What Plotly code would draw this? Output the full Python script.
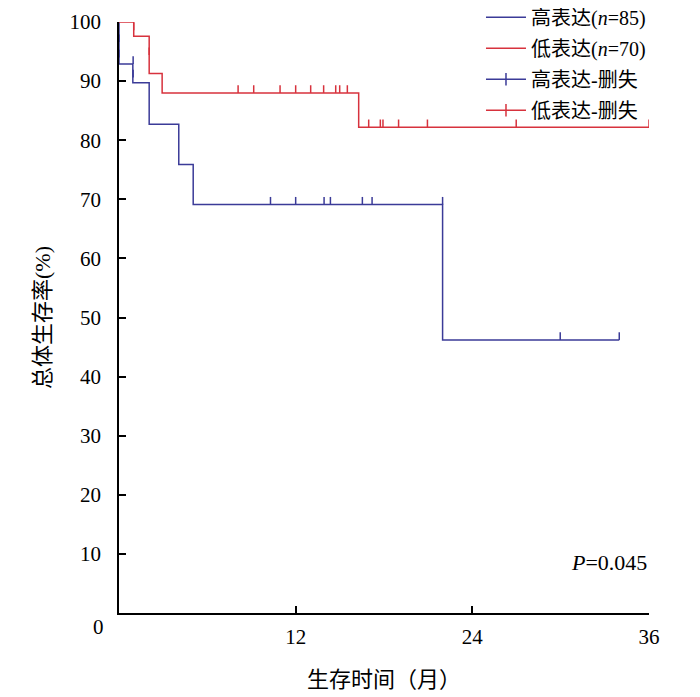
import plotly.graph_objects as go

# Kaplan-Meier steps (months, survival %)
high_times = [0, 0, 0.94, 2.05, 4.06, 5.04, 21.98, 33.98]
high_surv = [100, 92.9, 89.7, 82.7, 75.9, 69.1, 46.2, 46.2]
low_times = [0, 1.0, 2.05, 2.93, 16.28, 36]
low_surv = [100, 97.6, 91.3, 88.0, 82.2, 82.2]

# censored observations
high_cens_t = [0, 0, 0.96, 0.96, 10.29, 12.0, 13.93, 14.36, 16.53, 17.19, 21.98, 29.97, 33.98]
high_cens_s = [96.6, 94.0, 92.9, 90.6, 69.1, 69.1, 69.1, 69.1, 69.1, 69.1, 69.1, 46.2, 46.2]
low_cens_t = [0, 1.0, 1.0, 2.05, 8.09, 9.15, 10.94, 12.0, 13.02, 13.9, 14.72, 14.99, 15.51,
              16.96, 17.75, 17.93, 18.99, 20.95, 26.98, 36.0]
low_cens_s = [100, 100, 98.6, 94.4, 88.0, 88.0, 88.0, 88.0, 88.0, 88.0, 88.0, 88.0, 88.0,
              82.2, 82.2, 82.2, 82.2, 82.2, 82.2, 82.2]

x_ticks = [12, 24, 36]
y_ticks = [10, 20, 30, 40, 50, 60, 70, 80, 90, 100]
p_text = '<i>P</i>=0.045'

BLUE = '#3b3b98'
RED = '#d7323d'
FONT = 'Liberation Serif, Noto Sans CJK SC, serif'

fig = go.Figure()

fig.add_trace(go.Scatter(x=high_times, y=high_surv, mode='lines', line=dict(color=BLUE, width=1.5, shape='hv'),
                         name='高表达(<i>n</i>=85)', legendgroup='a', cliponaxis=False))
fig.add_trace(go.Scatter(x=low_times, y=low_surv, mode='lines', line=dict(color=RED, width=1.5, shape='hv'),
                         name='低表达(<i>n</i>=70)', legendgroup='b', cliponaxis=False))

# censor ticks drawn as one-sided error bars pointing up
for t, s, c in [(high_cens_t, high_cens_s, BLUE), (low_cens_t, low_cens_s, RED)]:
    fig.add_trace(go.Scatter(x=t, y=s, mode='markers', marker=dict(size=1, color=c, opacity=0),
                             error_y=dict(type='data', symmetric=False, array=[1.3] * len(t),
                                          arrayminus=[0] * len(t), width=0, thickness=1.5, color=c),
                             showlegend=False, hoverinfo='skip', cliponaxis=False))

# legend entries for censored
fig.add_trace(go.Scatter(x=[None], y=[None], mode='lines+markers', name='高表达-删失', legendgroup='c',
                         line=dict(color=BLUE, width=1.5),
                         marker=dict(symbol='line-ns-open', size=9, color=BLUE, line=dict(width=1.5, color=BLUE))))
fig.add_trace(go.Scatter(x=[None], y=[None], mode='lines+markers', name='低表达-删失', legendgroup='d',
                         line=dict(color=RED, width=1.5),
                         marker=dict(symbol='line-ns-open', size=9, color=RED, line=dict(width=1.5, color=RED))))

fig.add_annotation(x=36, y=8.5, xref='x', yref='y', text=p_text, showarrow=False, xanchor='right',
                   yanchor='middle', font=dict(size=22, color='black', family=FONT))
fig.add_annotation(x=-0.038, y=-0.024, xref='paper', yref='paper', text='0', showarrow=False,
                   xanchor='center', yanchor='middle', font=dict(size=21, color='black', family=FONT))

# page body adds an 8px margin, so the plot margins are shifted by that much
fig.update_layout(
    width=700, height=697,
    margin=dict(l=111, r=59, t=14, b=92, autoexpand=False),
    plot_bgcolor='white', paper_bgcolor='white',
    font=dict(family=FONT, size=21, color='black'),
    showlegend=True,
    legend=dict(x=0.683, y=1.041, xanchor='left', yanchor='top', bgcolor='rgba(0,0,0,0)',
                font=dict(size=20, family=FONT), tracegroupgap=2, itemwidth=40),
)
fig.update_xaxes(range=[0, 36], tickvals=x_ticks, ticks='inside', ticklen=7, tickwidth=1.5, tickcolor='black',
                 showline=True, linecolor='black', linewidth=1.5, showgrid=False, zeroline=False,
                 ticklabelstandoff=4,
                 title=dict(text='生存时间（月）', standoff=24, font=dict(size=22, family=FONT)))
fig.update_yaxes(range=[0, 100], tickvals=y_ticks, ticks='inside', ticklen=7, tickwidth=1.5, tickcolor='black',
                 showline=True, linecolor='black', linewidth=1.5, showgrid=False, zeroline=False,
                 ticklabelstandoff=12,
                 title=dict(text='总体生存率(%)', standoff=13, font=dict(size=22, family=FONT)))

fig.write_html('out.html')
